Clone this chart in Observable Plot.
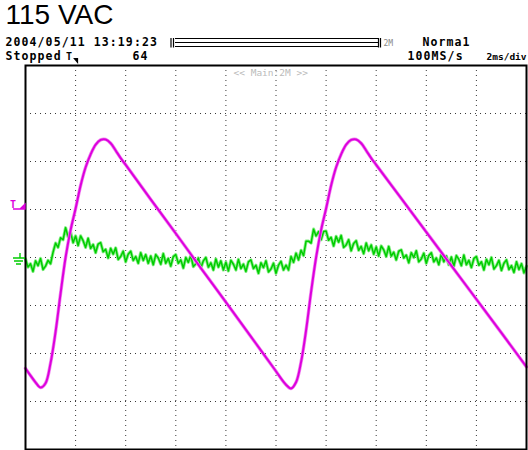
<!DOCTYPE html>
<html><head><meta charset="utf-8">
<script src="https://cdn.jsdelivr.net/npm/d3@7"></script>
<script src="https://cdn.jsdelivr.net/npm/@observablehq/plot@0.6"></script>
<style>body{margin:0;background:#fff}</style>
</head><body><div id="chart"></div>
<script>
// ---- text ----
const title = "115 VAC";
const dateText = "2004/05/11 13:19:23";
const statusText = "Stopped";
const acqCount = "64";
const trigMode = "Norma1";
const sampleRate = "100MS/s";
const timeDiv = "2ms/div";
const recordLen = "2M";
const zoomLabel = "<< Main:2M >>";

// ---- axes (time in ms, amplitude in divisions) ----
const xDomain = [0, 20];
const yDomain = [-4, 4];
const gridX = [2, 4, 6, 8, 10, 12, 14, 16, 18];
const gridY = [-3, -2, -1, 0, 1, 2, 3];
const triggerLevel = 1;
const groundLevel = 0;
const triggerTime = 2.0;

// ---- magenta trace ----
const magTime = [0,0.2,0.4,0.6,0.8,1.0,1.2,1.4,1.6,1.8,2.0,2.2,2.4,2.6,2.8,3.0,3.2,3.4,3.6,3.8,4.0,5,6,7,8,9,10,10.2,10.4,10.6,10.8,11.0,11.2,11.4,11.6,11.8,12.0,12.2,12.4,12.6,12.8,13.0,13.2,13.4,13.6,13.8,14,15,16,17,18,19,20];
const magValue = [-2.31,-2.46,-2.60,-2.71,-2.62,-2.20,-1.55,-0.75,0.00,0.57,1.02,1.50,1.88,2.15,2.35,2.45,2.46,2.38,2.23,2.07,1.93,1.21,0.50,-0.22,-0.93,-1.65,-2.37,-2.52,-2.65,-2.73,-2.60,-2.18,-1.52,-0.72,0.00,0.57,1.02,1.50,1.88,2.15,2.35,2.45,2.46,2.38,2.23,2.07,1.93,1.23,0.53,-0.17,-0.87,-1.57,-2.28];

// ---- green trace, one sample per 0.1 ms ----
const greenStep = 0.1;
const greenValue = [
-0.03,-0.20,-0.13,-0.29,-0.07,-0.17,-0.02,-0.25,-0.18,-0.06,
-0.13,0.11,0.30,0.21,0.41,0.37,0.62,0.43,0.53,0.31,
0.45,0.25,0.45,0.35,0.21,0.40,0.19,0.27,0.10,0.28,
0.31,0.12,0.17,-0.01,0.19,0.07,0.20,-0.04,0.02,0.13,
-0.09,0.07,0.13,-0.06,0.02,-0.12,0.10,-0.06,0.06,-0.12,
0.03,-0.15,0.06,-0.01,-0.14,0.08,-0.12,-0.02,-0.18,0.02,
0.06,-0.12,-0.05,-0.22,0.00,-0.10,0.04,-0.19,-0.13,-0.01,
-0.22,-0.07,0.00,-0.20,-0.11,-0.26,-0.03,-0.20,-0.07,-0.26,
-0.10,-0.28,-0.06,-0.14,-0.26,-0.04,-0.23,-0.14,-0.29,-0.09,
-0.05,-0.23,-0.16,-0.33,-0.11,-0.21,-0.07,-0.30,-0.24,-0.12,
-0.33,-0.16,-0.08,-0.26,-0.16,-0.26,0.02,-0.10,0.09,-0.05,
0.15,0.04,0.34,0.34,0.30,0.59,0.45,0.54,0.37,0.54,
0.55,0.36,0.42,0.24,0.44,0.32,0.46,0.21,0.26,0.37,
0.14,0.29,0.35,0.15,0.23,0.08,0.30,0.14,0.26,0.07,
0.22,0.03,0.24,0.16,0.02,0.23,0.03,0.11,-0.05,0.13,
0.16,-0.01,0.05,-0.11,0.10,0.00,0.14,-0.09,-0.03,0.09,
-0.12,0.04,0.10,-0.09,-0.01,-0.15,0.07,-0.09,0.03,-0.15,
0.01,-0.18,0.04,-0.04,-0.17,0.05,-0.15,-0.06,-0.21,-0.02,
0.02,-0.16,-0.09,-0.26,-0.04,-0.15,0.00,-0.24,-0.17,-0.06,
-0.27,-0.12,-0.05,-0.25,-0.17,-0.31,-0.09,-0.25,-0.13,-0.32,
-0.18];

const magData = magTime.map((t, i) => ({t, v: magValue[i]}));
const greenData = greenValue.map((v, i) => ({t: +(i * greenStep).toFixed(2), v}));

const MAG = "#dd00dd", GRN = "#00cc00";
const mono = "DejaVu Sans Mono";

const hdr = (txt, dx, dy, o = {}) => Plot.text([txt], {
  text: d => d, frameAnchor: "top-left", dx, dy, textAnchor: "start", lineAnchor: "bottom",
  fontFamily: mono, fontWeight: "bold", fontSize: 11.5, fill: "#000", ...o
});

const plot = Plot.plot({
  width: 528, height: 450,
  marginLeft: 25, marginRight: 2, marginTop: 65, marginBottom: 1,
  x: {domain: xDomain, axis: null},
  y: {domain: yDomain, axis: null},
  style: {background: "#fff", overflow: "visible"},
  marks: [
    Plot.ruleX(gridX, {stroke: "#222", strokeWidth: 1, strokeDasharray: "1,4", strokeOpacity: 0.9}),
    Plot.ruleY(gridY, {stroke: "#222", strokeWidth: 1, strokeDasharray: "1,4", strokeOpacity: 0.9}),
    Plot.line(greenData, {x: "t", y: "v", stroke: "#88ee88", strokeWidth: 3.2}),
    Plot.line(greenData, {x: "t", y: "v", stroke: GRN, strokeWidth: 1.5}),
    Plot.line(magData, {x: "t", y: "v", stroke: "#f088f0", strokeWidth: 3.4, curve: "catmull-rom"}),
    Plot.line(magData, {x: "t", y: "v", stroke: MAG, strokeWidth: 2, curve: "catmull-rom"}),
    Plot.frame({stroke: "#000", strokeWidth: 2}),
    hdr(title, -20, -42, {fontFamily: "Liberation Sans", fontWeight: "normal", fontSize: 28}),
    hdr(dateText, -20, -19.5),
    hdr(statusText, -20, -6),
    hdr(acqCount, 107, -6),
    hdr(trigMode, 397, -19.5),
    hdr(sampleRate, 382, -6),
    hdr(timeDiv, 461, -6, {fontSize: 9.5}),
    hdr(recordLen, 358, -19.5, {fontSize: 8, fontWeight: "normal", fill: "#888"}),
    hdr(zoomLabel, 208, 10, {fontSize: 9.5, fontWeight: "normal", fill: "#bbb"})
  ]
});

document.getElementById("chart").appendChild(plot);

const svg = d3.select(plot);
// widen the bitmap-like header font
svg.selectAll("g").filter(function () {
  return this.getAttribute("font-family") === mono && this.getAttribute("font-size") === "11.5";
}).attr("letter-spacing", "1.1px");

// ---- decorations anchored to scales ----
const xs = plot.scale("x"), ys = plot.scale("y");
const left = 25;
const yT = ys.apply(triggerLevel), yG = ys.apply(groundLevel);
// trigger level marker
svg.append("text").attr("x", 13).attr("y", yT - 1).attr("fill", MAG)
  .attr("font-family", mono).attr("font-weight", "bold").attr("font-size", 10).text("T");
svg.append("path").attr("d", `M13,${yT}H${left}M${left-5},${yT}L${left},${yT-5}L${left},${yT}Z`)
  .attr("stroke", MAG).attr("fill", MAG).attr("stroke-width", 1.3);
// ground marker
svg.append("path").attr("d", `M13,${yG+1}H${left} M20,${yG-4}V${yG+1} M14,${yG+4}H23 M16,${yG+7}H21`)
  .attr("stroke", GRN).attr("fill", "none").attr("stroke-width", 1.4);
// trigger position marker
const xT = xs.apply(triggerTime);
svg.append("text").attr("x", xT - 6).attr("y", 60).attr("fill", "#000")
  .attr("font-family", mono).attr("font-weight", "bold").attr("font-size", 10).text("T");
svg.append("path").attr("d", `M${xT-2},${58}H${xT+3}L${xT+3},${64}Z`).attr("fill", "#000");
// record length bar
const rb = svg.append("g").attr("stroke", "#000").attr("stroke-width", 1.2).attr("fill", "none");
[38.5, 42.5, 46.5].forEach(y => rb.append("line").attr("x1", 175).attr("x2", 378).attr("y1", y).attr("y2", y));
[171, 173.5, 378.5, 380.5].forEach(x => rb.append("line").attr("x1", x).attr("x2", x).attr("y1", 38).attr("y2", 47.5));
</script>
</body></html>
